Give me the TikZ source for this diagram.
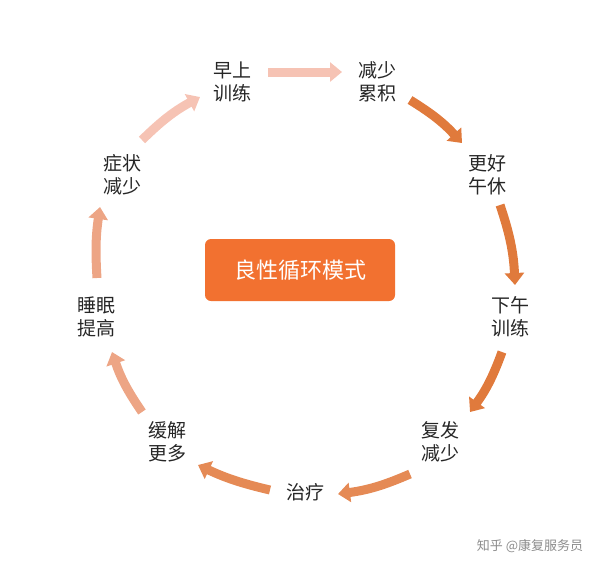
\documentclass[tikz,border=0pt]{standalone}
\usepackage{fontspec}
\setmainfont{Noto Sans CJK SC}
\usetikzlibrary{arrows.meta}
\definecolor{cA}{HTML}{F6C3B4}
\definecolor{cB}{HTML}{E07A3C}
\definecolor{cC}{HTML}{E58A55}
\definecolor{cD}{HTML}{EDA585}
\definecolor{boxc}{HTML}{F27130}
\tikzset{
  stage/.style={align=center, font=\fontsize{19}{23}\selectfont, text=black!85},
  cyc/.style={line width=9pt, -{Triangle[width=19pt,length=12pt]}},
}
\begin{document}
\begin{tikzpicture}[x=1pt,y=-1pt]
\useasboundingbox (0,0) rectangle (612,563);
\node[fill=boxc, rounded corners=6pt, minimum width=190pt, minimum height=62pt,
  text=white, font=\fontsize{22}{26}\selectfont] (M) at (300,270) {良性循环模式};

\node[stage] (A) at (232,82) {早上\\训练};
\node[stage] (B) at (377,82) {减少\\累积};
\node[stage] (C) at (487,175) {更好\\午休};
\node[stage] (D) at (510,317) {下午\\训练};
\node[stage] (E) at (440,442) {复发\\减少};
\node[stage] (F) at (305,492) {治疗};
\node[stage] (G) at (167,442) {缓解\\更多};
\node[stage] (H) at (96,317) {睡眠\\提高};
\node[stage] (I) at (122,175) {症状\\减少};
\node[text=gray!90, font=\fontsize{13}{15}\selectfont] (W) at (530,546) {知乎 @康复服务员};

% arrow ends
\coordinate (a1) at (268,72);  \coordinate (a2) at (342,72);
\coordinate (b1) at (410,100); \coordinate (b2) at (462,143);
\coordinate (c1) at (500,205); \coordinate (c2) at (515,285);
\coordinate (d1) at (502,352); \coordinate (d2) at (470,412);
\coordinate (e1) at (410,474); \coordinate (e2) at (338,494);
\coordinate (f1) at (270,490); \coordinate (f2) at (198,465);
\coordinate (g1) at (142,412); \coordinate (g2) at (112,352);
\coordinate (h1) at (97,278);  \coordinate (h2) at (100,207);
\coordinate (i1) at (142,140); \coordinate (i2) at (200,97);

\draw[cyc, cA] (a1) -- (a2);
\draw[cyc, cB] (b1) to[bend left=8] (b2);
\draw[cyc, cB] (c1) to[bend left=8] (c2);
\draw[cyc, cB] (d1) to[bend left=8] (d2);
\draw[cyc, cC] (e1) to[bend left=8] (e2);
\draw[cyc, cC] (f1) to[bend left=6] (f2);
\draw[cyc, cD] (g1) to[bend left=8] (g2);
\draw[cyc, cD] (h1) to[bend left=6] (h2);
\draw[cyc, cA] (i1) to[bend left=8] (i2);
\end{tikzpicture}
\end{document}
